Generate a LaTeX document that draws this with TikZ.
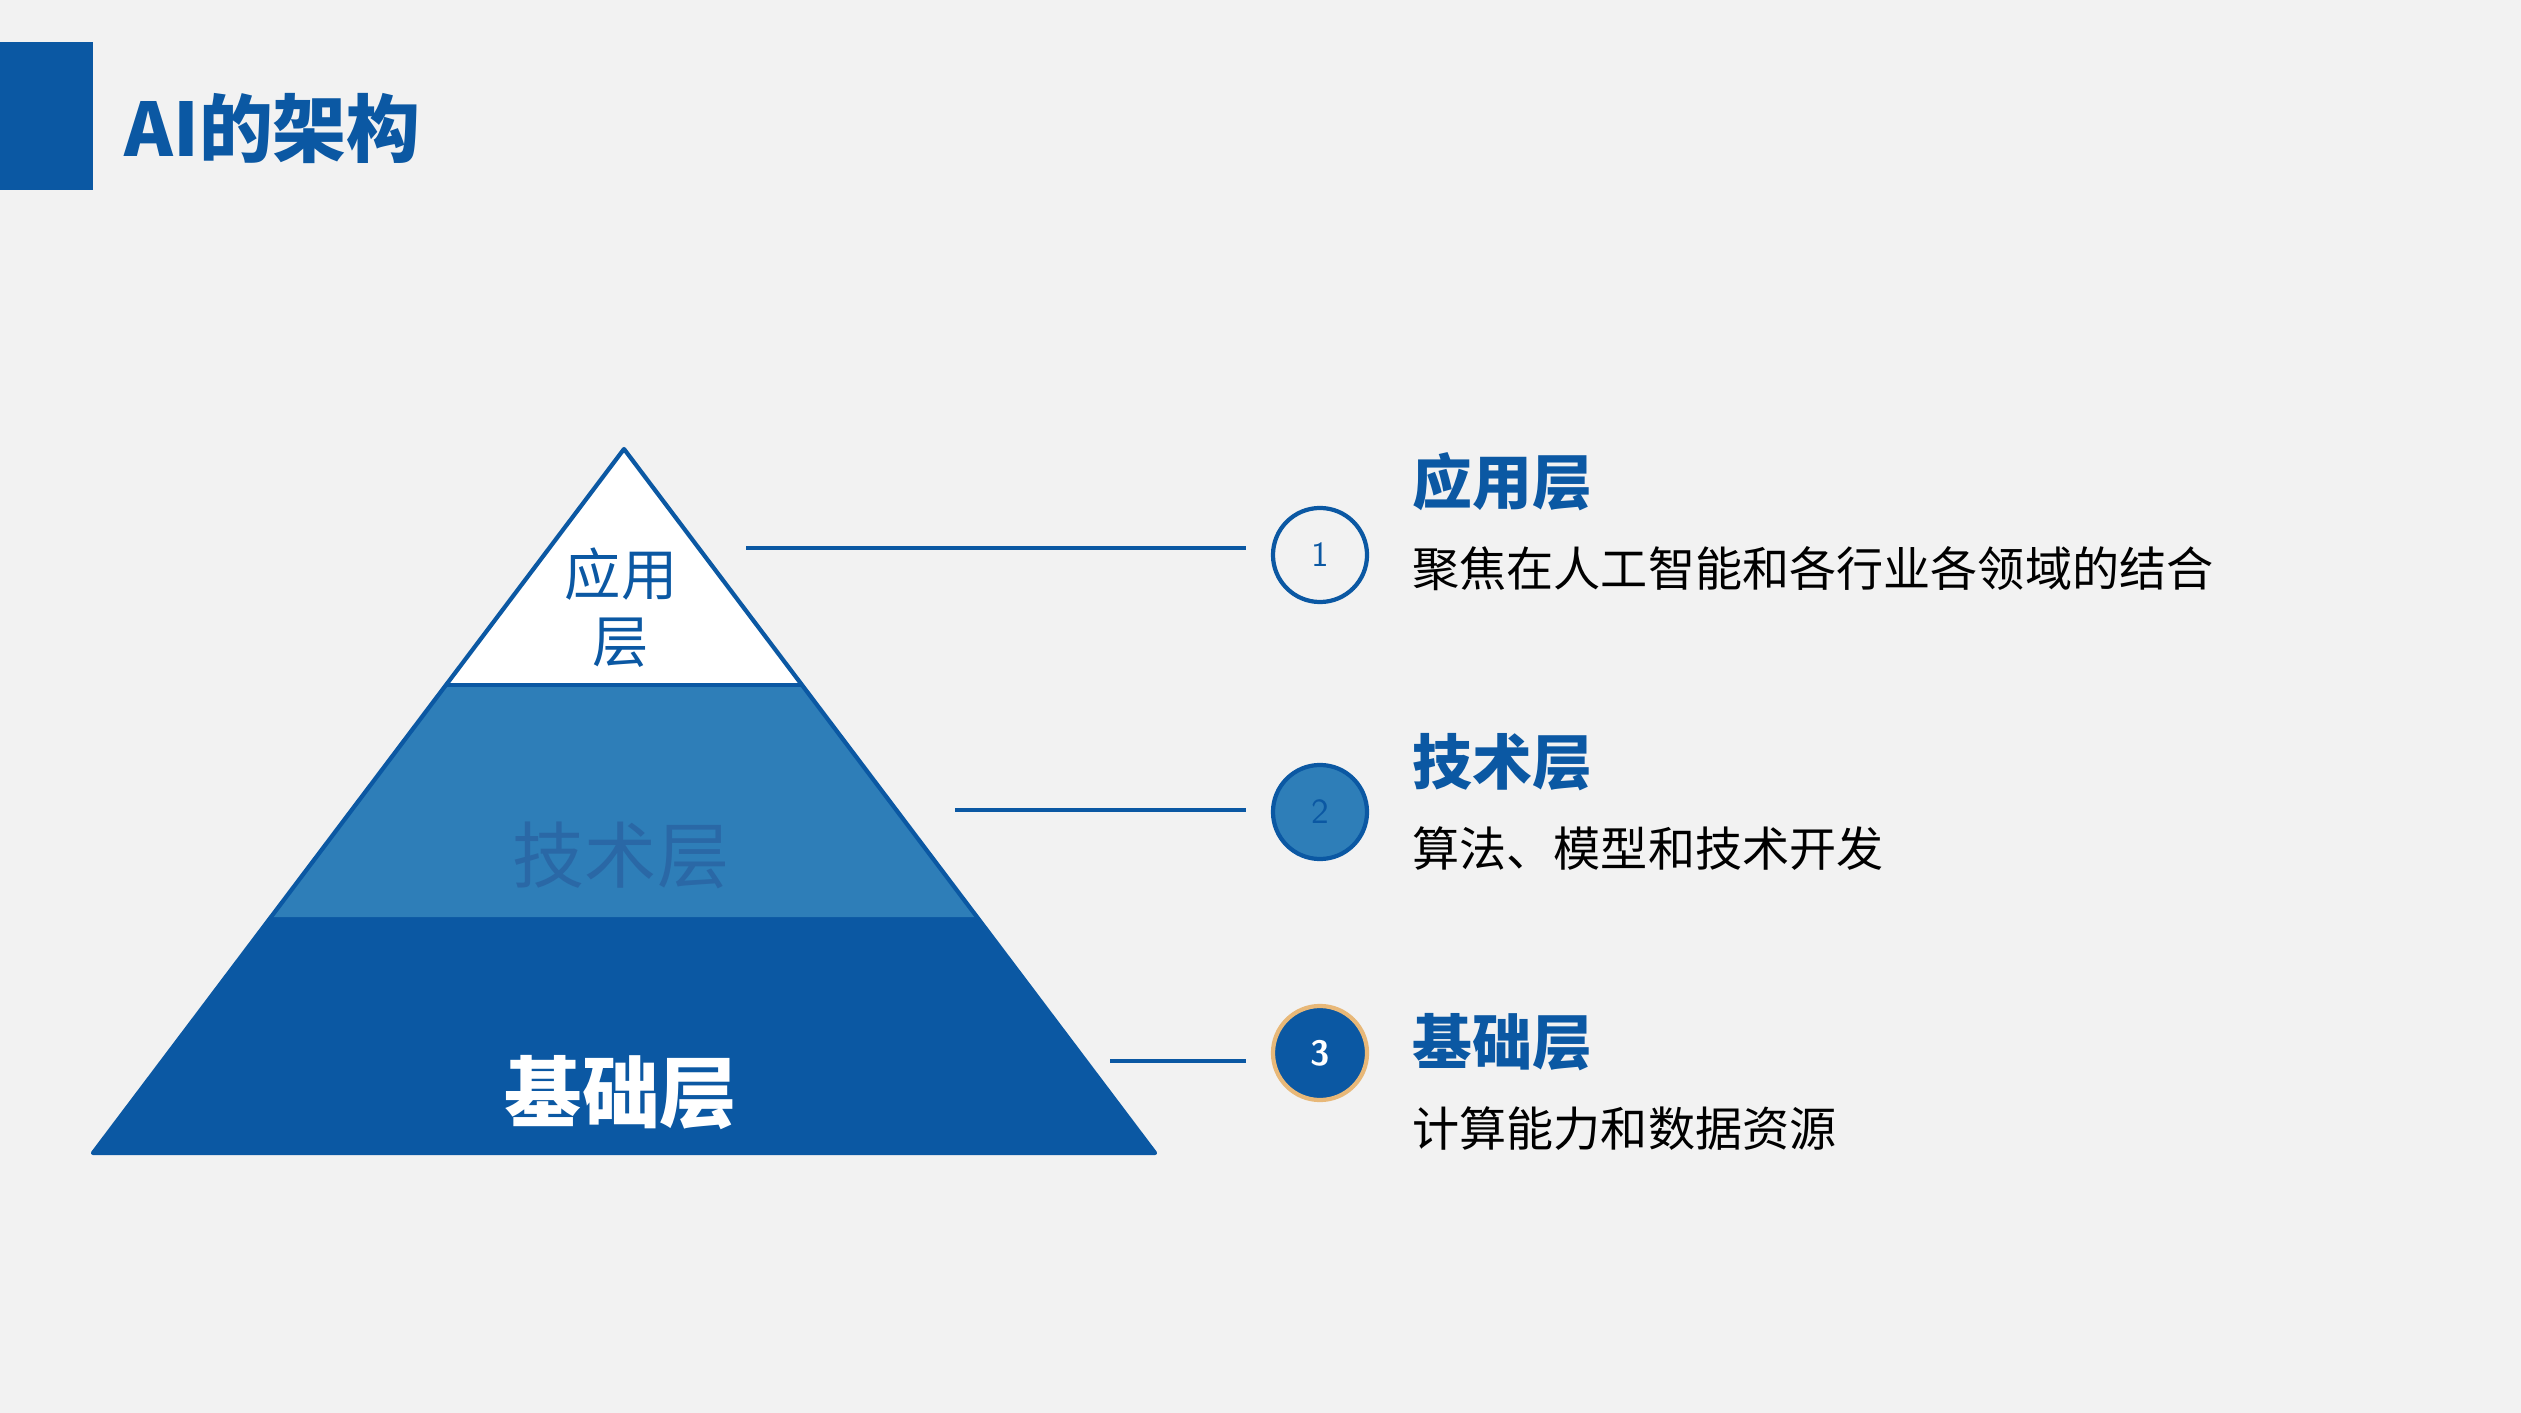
\documentclass[tikz,border=0pt]{standalone}
\usepackage{fontspec}
\setmainfont{Noto Sans CJK SC}
\definecolor{darkblue}{HTML}{0B58A3}
\definecolor{midblue}{HTML}{2E7EB8}
\definecolor{txtblue}{HTML}{2A68A6}
\definecolor{bg}{HTML}{F2F2F2}
\definecolor{ring}{HTML}{E8B878}
\tikzset{
  heading/.style={anchor=west,text=darkblue,font=\fontsize{17}{20}\selectfont\bfseries},
  desc/.style={anchor=west,text=black,font=\fontsize{13.4}{16}\selectfont},
  badge/.style={circle,minimum size=0.94cm,inner sep=0pt,line width=1.2pt,font=\sffamily\fontsize{10}{12}\selectfont}
}
\begin{document}
\begin{tikzpicture}[x=0.01cm,y=-0.01cm]
\fill [bg] (0,0) rectangle (2521,1413);
\useasboundingbox (0,0) rectangle (2521,1413);
% title
\fill [darkblue] (0,42) rectangle (93,190);
\node [anchor=west,text=darkblue,font=\fontsize{21}{25}\selectfont\bfseries] (title) at (112,129) {AI的架构};

% pyramid
\fill [darkblue] (271,917) -- (977,917) -- (1155,1153) -- (93,1153) -- cycle;
\fill [midblue] (446,685) -- (802,685) -- (977,917) -- (271,917) -- cycle;
\fill [white] (624,449) -- (802,685) -- (446,685) -- cycle;
\draw [darkblue,line width=1.2pt,line join=round] (624,449) -- (1155,1153) -- (93,1153) -- cycle;
\draw [darkblue,line width=1.2pt] (446,685) -- (802,685);
\node [text=darkblue,align=center,font=\fontsize{16}{19}\selectfont] (app) at (621,608) {应用\\层};
\node [text=txtblue,font=\fontsize{20.5}{24}\selectfont] (tech) at (621,855) {技术层};
\node [text=white,font=\fontsize{22}{26}\selectfont\bfseries] (base) at (621,1093) {基础层};

% badges
\node [badge,draw=darkblue,fill=bg,text=darkblue] (n1) at (1320,555) {1};
\node [badge,draw=darkblue,fill=midblue,text=darkblue] (n2) at (1320,812) {2};
\node [badge,draw=ring,fill=darkblue,text=white] (n3) at (1320,1053) {\bfseries 3};
\coordinate (l1) at (746,548);
\coordinate (l2) at (955,810);
\coordinate (l3) at (1110,1061);
\coordinate (e1) at (1246,548);
\coordinate (e2) at (1246,810);
\coordinate (e3) at (1246,1061);
\draw [darkblue,line width=1.2pt] (l1) -- (e1);
\draw [darkblue,line width=1.2pt] (l2) -- (e2);
\draw [darkblue,line width=1.2pt] (l3) -- (e3);

% labels
\node [heading] (h1) at (1400,482) {应用层};
\node [desc] (d1) at (1400,569) {聚焦在人工智能和各行业各领域的结合};
\node [heading] (h2) at (1400,762) {技术层};
\node [desc] (d2) at (1400,849) {算法、模型和技术开发};
\node [heading] (h3) at (1400,1042) {基础层};
\node [desc] (d3) at (1400,1129) {计算能力和数据资源};
\end{tikzpicture}
\end{document}
